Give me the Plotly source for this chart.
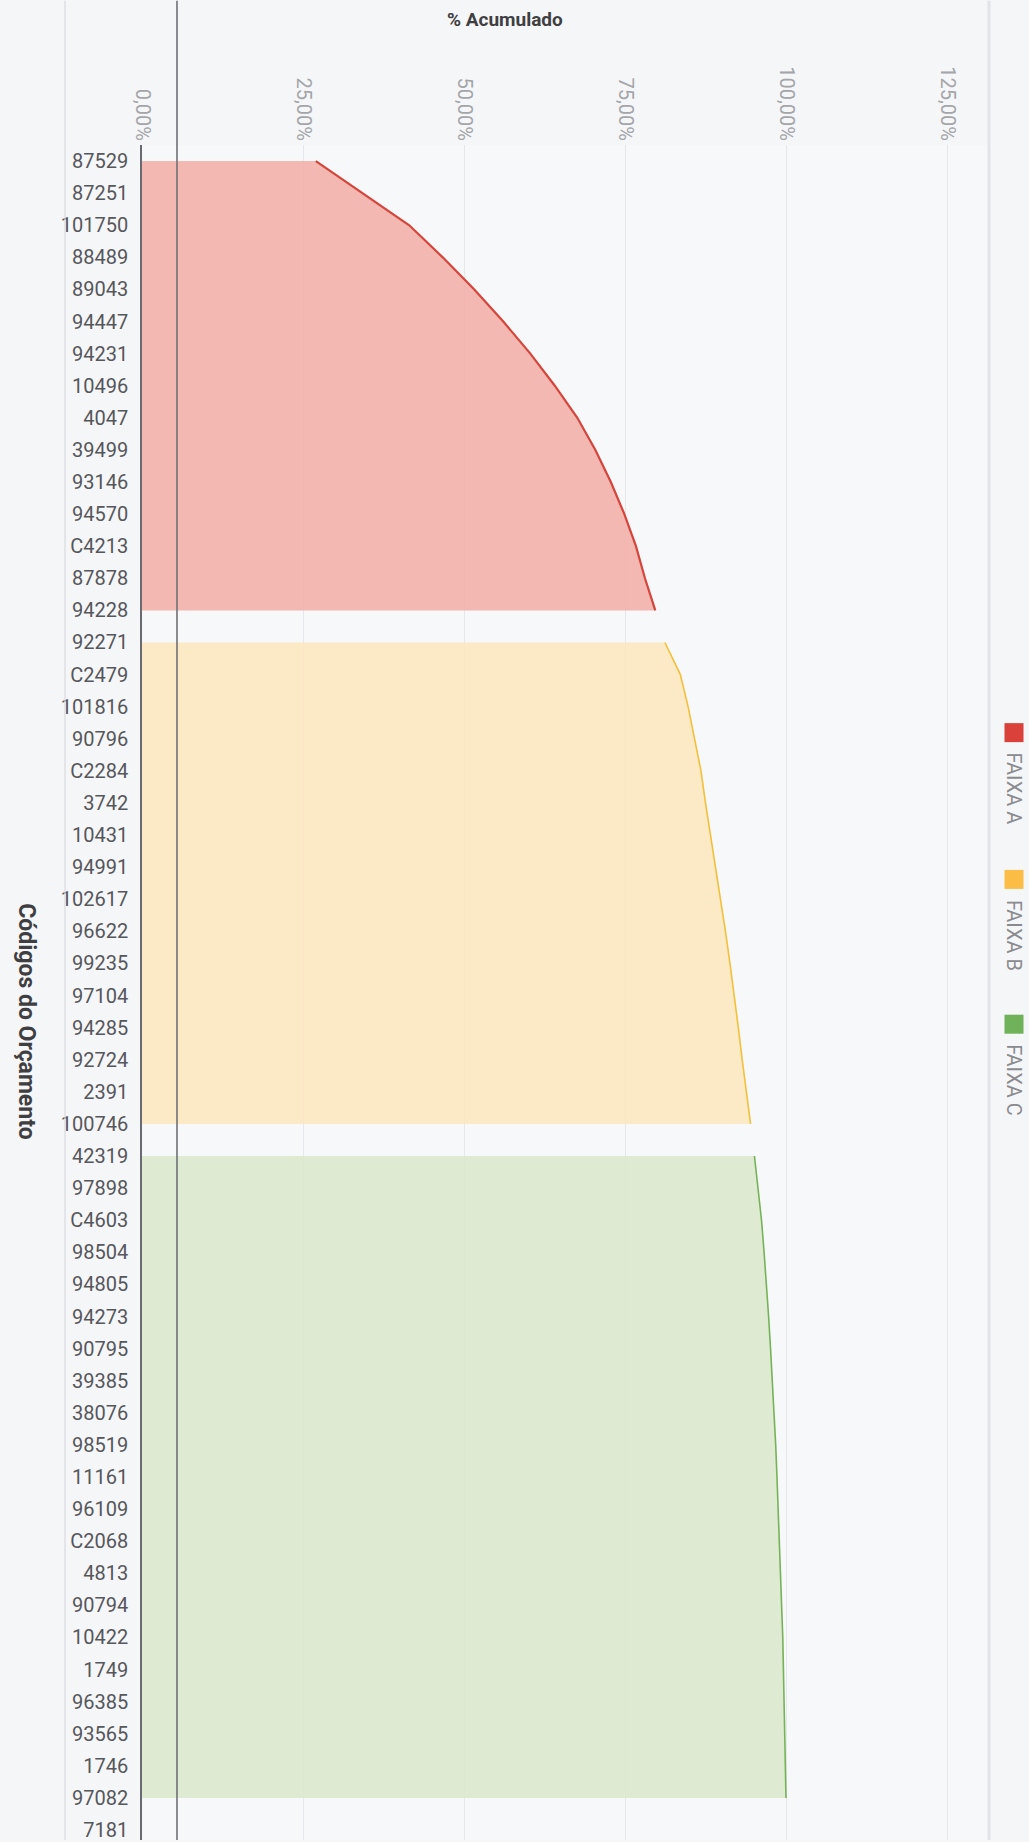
import plotly.graph_objects as go

# ---- data ----
faixa_a_codes = ["87529", "87251", "101750", "88489", "89043", "94447", "94231", "10496",
                 "4047", "39499", "93146", "94570", "C4213", "87878", "94228"]
faixa_a_pct = [27.0, 34.3, 41.5, 46.7, 51.6, 56.1, 60.3, 64.1, 67.6, 70.4, 72.8, 74.9, 76.7, 78.1, 79.7]

faixa_b_codes = ["92271", "C2479", "101816", "90796", "C2284", "3742", "10431", "94991",
                 "102617", "96622", "99235", "97104", "94285", "92724", "2391", "100746"]
faixa_b_pct = [81.2, 83.6, 84.8, 85.8, 86.8, 87.5, 88.3, 89.1, 89.9, 90.6, 91.3, 92.0, 92.6, 93.2, 93.9, 94.5]

faixa_c_codes = ["42319", "97898", "C4603", "98504", "94805", "94273", "90795", "39385",
                 "38076", "98519", "11161", "96109", "C2068", "4813", "90794", "10422",
                 "1749", "96385", "93565", "1746", "97082", "7181"]
faixa_c_pct = [95.1, 95.7, 96.2, 96.6, 97.0, 97.3, 97.6, 97.9, 98.1, 98.4, 98.6, 98.8, 99.0,
               99.2, 99.3, 99.5, 99.6, 99.7, 99.8, 99.9, 100.0, None]

series_names = ["FAIXA A", "FAIXA B", "FAIXA C"]
x_ticks = [0, 25, 50, 75, 100, 125]
x_tick_labels = ["0,00%", "25,00%", "50,00%", "75,00%", "100,00%", "125,00%"]

# ---- styles ----
line_colors = ["#d5453b", "#f3c03c", "#76b358"]
fill_colors = ["rgba(242,176,170,0.9)", "rgba(253,230,190,0.88)", "rgba(219,232,205,0.92)"]
legend_colors = ["#d9413a", "#fbbd45", "#6fb25a"]
line_widths = [2.2, 1.6, 1.6]

all_codes = faixa_a_codes + faixa_b_codes + faixa_c_codes
codes = [faixa_a_codes, faixa_b_codes, faixa_c_codes]
pcts = [faixa_a_pct, faixa_b_pct, faixa_c_pct]

W, H = 1029, 1842
L, R, T, B = 142, 40, 144.5, 0
pw, ph = W - L - R, H - T - B
PX_PER_PCT = 6.44


def px_x(px):
    return (px - L) / pw


def px_y(py):
    return (H - B - py) / ph


fig = go.Figure()
for name, c, p, lc, fc, lw in zip(series_names, codes, pcts, line_colors, fill_colors, line_widths):
    fig.add_trace(go.Scatter(
        x=p, y=c, name=name, mode="lines", fill="tozerox",
        fillcolor=fc, line=dict(color=lc, width=lw),
        connectgaps=False, showlegend=False,
    ))

shapes = []
# page artefacts of the scanned sheet (vertical fold lines)
for xp, col, w in [(65, "#d9dade", 1.2), (177, "#6f7075", 1.6), (989, "#e2e3e7", 3)]:
    shapes.append(dict(type="line", xref="paper", yref="paper",
                       x0=px_x(xp), x1=px_x(xp), y0=0, y1=px_y(0),
                       line=dict(color=col, width=w), layer="above"))

annotations = [
    dict(text="<b>% Acumulado</b>", xref="paper", yref="paper", x=px_x(505), y=px_y(19),
         xanchor="center", yanchor="middle",
         showarrow=False, font=dict(family="Roboto", size=19, color="#3f3f42")),
    dict(text="<b>Códigos do Orçamento</b>", xref="paper", yref="paper", x=px_x(27), y=px_y(1022),
         xanchor="center", yanchor="middle",
         showarrow=False, textangle=90, font=dict(family="Roboto", size=23, color="#3f3f42")),
]

# rotated legend
leg_sq_y = [733, 880, 1025]
leg_x = 1014
for name, col, sy in zip(series_names, legend_colors, leg_sq_y):
    shapes.append(dict(type="rect", xref="paper", yref="paper",
                       xsizemode="pixel", ysizemode="pixel",
                       xanchor=px_x(leg_x), yanchor=px_y(sy),
                       x0=-9.5, x1=9.5, y0=-9.5, y1=9.5,
                       fillcolor=col, line=dict(width=0)))
    annotations.append(dict(text=name, xref="paper", yref="paper",
                            x=px_x(leg_x), y=px_y(sy + 18), xanchor="center", yanchor="top",
                            showarrow=False, textangle=90,
                            font=dict(family="Roboto", size=20, color="#8a8b8f")))

fig.update_layout(
    width=W, height=H,
    margin=dict(l=L, r=R, t=T, b=B, pad=0),
    paper_bgcolor="#f5f6f8",
    plot_bgcolor="#f7f8fa",
    shapes=shapes,
    annotations=annotations,
    xaxis=dict(
        side="top", range=[0, pw / PX_PER_PCT],
        tickvals=x_ticks, ticktext=x_tick_labels,
        tickangle=90, tickfont=dict(family="Roboto", size=20, color="#a4a5a8"),
        showgrid=True, gridcolor="#e6e7ea", gridwidth=1.2,
        zeroline=False, showline=False, ticks="",
    ),
    yaxis=dict(
        type="category", categoryorder="array", categoryarray=all_codes,
        tickvals=all_codes,
        range=[52.31, -0.5],
        tickfont=dict(family="Roboto", size=20, color="#56575b"),
        showgrid=False, zeroline=False,
        showline=True, linecolor="#6a6b70", linewidth=1.6,
        ticks="", ticklabelstandoff=8,
    ),
    font=dict(family="Roboto"),
)

fig.write_html(
    "out.html",
    config={"displayModeBar": False},
    post_script="document.body.style.margin='0';document.body.style.padding='0';"
                "document.body.style.overflow='hidden';",
)
